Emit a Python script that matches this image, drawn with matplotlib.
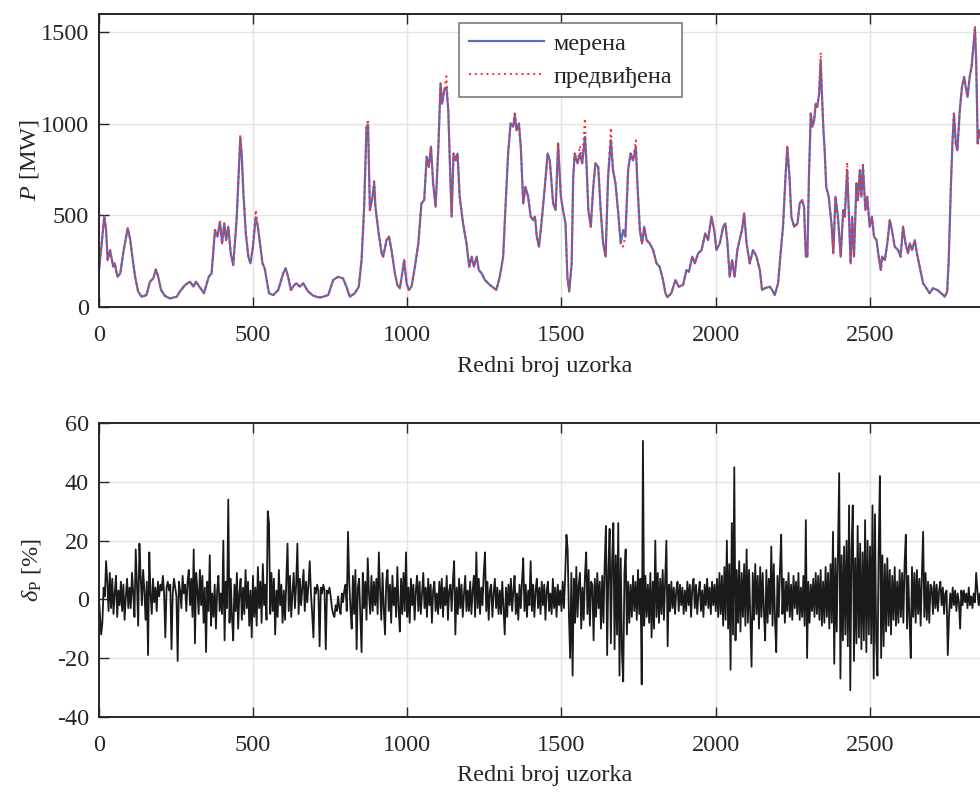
"""Merena i predviđena snaga + relativna greška predviđanja (δP)."""
import matplotlib
matplotlib.use("Agg")
import matplotlib.pyplot as plt
import numpy as np

# ─── Data ──────────────────────────────────────────────────────────────────
# measured power, sample index -> MW
P_IDX = [
    0, 10, 18, 24, 29, 37, 47, 52, 61, 70, 80, 94, 102, 109, 118, 128, 139, 155,
    166, 177, 185, 193, 202, 215, 231, 253, 263, 280, 296, 307, 315, 334, 341,
    357, 366, 377, 385, 393, 400, 407, 413, 420, 428, 436, 447, 453, 459, 464,
    469, 477, 485, 492, 500, 509, 516, 524, 531, 538, 552, 566, 582, 598, 606,
    614, 623, 634, 641, 652, 663, 679, 695, 711, 722, 744, 760, 776, 792, 803,
    814, 830, 843, 852, 860, 868, 873, 879, 886, 893, 897, 906, 917, 922, 933,
    941, 949, 960, 968, 976, 984, 990, 998, 1005, 1014, 1025, 1036, 1046, 1055,
    1063, 1070, 1077, 1084, 1092, 1101, 1108, 1113, 1120, 1127, 1133, 1138,
    1144, 1150, 1157, 1163, 1170, 1181, 1192, 1201, 1209, 1216, 1225, 1232,
    1241, 1252, 1268, 1289, 1300, 1311, 1318, 1327, 1335, 1343, 1349, 1354,
    1362, 1368, 1376, 1383, 1392, 1400, 1408, 1414, 1420, 1427, 1435, 1446,
    1455, 1462, 1473, 1481, 1489, 1498, 1505, 1513, 1519, 1525, 1533, 1538,
    1543, 1552, 1560, 1567, 1576, 1581, 1587, 1595, 1603, 1610, 1619, 1627,
    1635, 1643, 1651, 1660, 1667, 1675, 1683, 1692, 1700, 1707, 1716, 1724,
    1732, 1741, 1746, 1754, 1761, 1768, 1776, 1786, 1797, 1808, 1818, 1829,
    1837, 1843, 1856, 1869, 1880, 1894, 1905, 1913, 1924, 1932, 1943, 1954,
    1966, 1975, 1986, 1995, 2002, 2013, 2024, 2031, 2038, 2045, 2053, 2061,
    2070, 2077, 2085, 2092, 2100, 2110, 2121, 2132, 2143, 2150, 2159, 2175,
    2186, 2191, 2202, 2211, 2218, 2226, 2232, 2239, 2245, 2254, 2265, 2272,
    2280, 2286, 2292, 2297, 2302, 2308, 2313, 2319, 2324, 2329, 2335, 2340,
    2344, 2349, 2353, 2358, 2366, 2375, 2381, 2388, 2396, 2405, 2413, 2418,
    2426, 2431, 2437, 2442, 2448, 2456, 2461, 2467, 2472, 2477, 2485, 2491,
    2499, 2506, 2513, 2521, 2528, 2535, 2539, 2548, 2556, 2564, 2571, 2580,
    2591, 2599, 2607, 2615, 2623, 2629, 2636, 2645, 2652, 2661, 2672, 2683,
    2693, 2704, 2718, 2731, 2742, 2750, 2755, 2762, 2767, 2772, 2778, 2783,
    2791, 2798, 2805, 2810, 2816, 2823, 2829, 2834, 2840, 2844, 2849, 2853,
    2862, 2875, 2890,
]
P_MEAS = [
    184, 350, 495, 420, 256, 310, 220, 238, 165, 184, 300, 430, 370, 275, 165, 84, 56, 65,
    138, 156, 205, 165, 93, 60, 47, 56, 84, 120, 138, 111, 138, 93, 75,
    165, 184, 420, 384, 465, 347, 456, 365, 438, 293, 229, 475, 700, 925, 820,
    620, 400, 275, 238, 330, 490, 438, 330, 238, 211, 75, 65, 93, 184, 211,
    165, 93, 120, 129, 111, 129, 84, 62, 53, 53, 65, 147, 165, 156, 111,
    56, 75, 111, 256, 529, 984, 995, 529, 584, 675, 547, 420, 293, 275, 365,
    384, 311, 184, 120, 102, 184, 256, 129, 93, 111, 220, 347, 565, 584,
    820, 765, 875, 675, 547, 875, 1220, 1110, 1184, 1200, 1075, 800,
    493, 838, 800, 838, 602, 456, 347, 220, 275, 220, 275, 202,
    184, 147, 120, 93, 165, 275, 529, 838, 1002, 984, 1050, 965,
    1002, 875, 565, 656, 602, 493, 475, 493, 384, 329, 456, 656,
    838, 800, 565, 529, 893, 602, 529, 456, 165, 84, 238, 711,
    838, 784, 838, 784, 929, 784, 529, 438, 656, 784, 765, 529,
    347, 275, 711, 911, 747, 675, 529, 347, 420, 384, 747, 838,
    800, 875, 675, 420, 347, 438, 365, 347, 311, 238, 220, 147,
    75, 53, 75, 147, 111, 120, 202, 193, 275, 238, 293, 311,
    402, 365, 493, 420, 311, 347, 438, 456, 347, 165, 256, 165,
    311, 365, 420, 511, 347, 238, 311, 275, 200, 93, 102, 111,
    84, 65, 129, 311, 438, 711, 870, 711, 493, 438, 456, 565,
    584, 547, 275, 275, 711, 1056, 984, 1020, 1110, 1093, 1165, 1345,
    1165, 965, 856, 656, 602, 456, 293, 602, 493, 275, 529, 493,
    747, 529, 238, 493, 275, 675, 584, 747, 602, 765, 529, 602,
    438, 493, 384, 365, 275, 202, 275, 256, 347, 475, 420, 329,
    311, 275, 438, 347, 293, 347, 311, 365, 293, 220, 129, 102,
    75, 102, 93, 75, 56, 84, 256, 656, 893, 1056, 893, 856,
    1075, 1202, 1256, 1202, 1147, 1256, 1311, 1402, 1520, 1347, 893, 965,
    900, 950, 880,
]
# predicted power: equal to measured except where the red dots visibly differ
P_PRED_DIFF = {
    459: 940, 509: 530, 873: 1025, 893: 700, 1127: 1260, 1349: 1070,
    1560: 880, 1576: 1030, 1660: 980, 1741: 910, 1700: 330, 2232: 885,
    2340: 1390, 2426: 790, 2477: 790, 2840: 1535,
}

# relative prediction error [%], one value every 4 samples (0 .. 2896)
DELTA_STEP = 4
DELTA_P = [
    2, -5, -12, -8, 4, 1, 13, 6, -4, 9, -3, 7, -5, 2, 8, -6, 3, -2, 6, -4, 5, -7, 1, 7, -3,
    4, -3, 9, 2, -6, 17, 5, -9, 19, 8, -2, 10, 3, -7, 6, -19, 16, 2, -5, 7, -1, 4, -4, 6, 1,
    5, 3, 8, 2, -13, 4, 6, 3, 5, -17, 2, 7, 4, 1, -21, 6, 3, -3, 8, 2, 5, -4, 6, 10, -2,
    7, -6, 17, -15, 9, 3, -5, 10, -2, 8, -8, 4, -18, 6, -4, 15, -9, 2, -6, 5, -10, 3, 8, -4, 2,
    -5, 20, -14, 6, -3, 34, -8, 7, -6, -14, 5, -4, 9, -10, 2, 7, -7, 4, -5, 10, -3, 6, -9, 3, -13,
    8, -6, 4, -9, 11, -3, 6, -8, 12, -2, 5, -7, 30, 26, -5, 9, -4, 7, -12, 3, -6, 10, -2, 5, -8,
    3, -7, 6, 19, -4, 8, -6, 2, 9, -3, 5, 19, -5, 7, -2, 4, 10, -4, 6, -1, 5, 13, 2, -5, -13,
    4, 2, 5, 3, -16, 4, 2, 5, 3, -17, 3, 2, 4, 1, -3, -5, -6, -2, -4, 1, -3, -5, 2, -1, 3,
    5, -4, 23, 6, -3, -10, 8, -5, 10, -17, 4, 7, -6, -18, 9, -3, 6, -7, 14, 2, -5, 8, -4, 6, -2,
    7, -5, 16, 3, -7, 9, -3, -12, 6, 10, -4, 5, -8, 8, -2, 4, -6, 11, -3, -11, 7, -5, 9, -4, 16,
    -6, 4, -8, 7, -2, 5, -7, 3, 8, -4, 6, -5, 2, 9, -3, 4, -6, 7, -2, 5, -8, 3, 6, -4, 2,
    -5, 6, -3, 7, -6, 4, -2, 8, -7, 3, 5, -4, 6, 13, -12, 4, -5, 7, -3, 5, -6, 2, 8, -4, 3,
    -4, 6, -5, 3, 8, -6, 16, -3, 7, -5, 4, -2, 9, 16, -4, 6, -7, 3, 5, -6, 2, 7, -3, 4, -5,
    3, -5, 6, -3, -12, 4, -6, 5, -2, 7, -4, 3, 8, -5, 2, -7, 5, -3, 6, 14, -4, 5, -6, 3, -2,
    13, -4, 5, -6, 3, 7, -3, 4, -5, 6, -2, 5, -7, 3, 6, -4, 2, -5, 7, -3, 4, -6, 5, -2, 3,
    -4, 6, -3, 8, 22, 17, -5, -20, 9, -26, 7, -8, 11, -6, 5, 9, -10, 4, -7, 8, 16, -5, 10, -9, 6,
    5, -14, 7, -6, 9, -3, 6, -10, 8, -8, 12, 25, -19, 10, 24, -15, 13, 26, -17, 15, -12, 26, -26, 14, -18,
    -28, 9, 17, -12, 6, -8, 5, -6, 8, -4, 6, -7, 10, -5, 7, -29, 54, -9, 8, -6, 5, -8, 9, -13, 6,
    -10, 20, -6, 9, -8, 7, -5, 10, -7, 6, 20, -16, 5, -4, 6, -3, 4, -5, 3, 6, -4, 5, -2, 4, -5,
    3, -4, 6, -2, 5, -6, 4, 7, -3, 5, -5, 2, 6, -4, 3, -6, 5, -2, 7, -3, 4, -5, 6, -2, 5,
    -4, 7, -6, 9, -5, 8, -9, 11, -7, 20, -10, 12, -24, 26, -12, 45, -14, 10, -8, 13, -11, 9, -6, 12, -9,
    17, -8, 10, -6, -23, 9, -7, 12, -5, 8, -10, 11, -6, 9, -4, -14, 10, -8, 7, -5, 18, -9, 12, -7, -18,
    8, -6, 10, 22, -5, 7, -8, 6, -4, 9, -6, 5, -7, 8, -3, 6, -5, 9, -7, 4, -6, 8, -9, 27, -20,
    6, -8, 5, -4, 7, -6, 9, -5, 8, -7, 10, -9, 6, -8, 11, -6, 9, -10, 12, -8, 23, -22, 14, -11, 16,
    43, -27, 15, -14, 18, -12, 20, -16, 32, -31, 17, 32, -21, 14, -15, 25, -13, 19, -17, 16, -14, 27, -18, 20, -12,
    18, -15, 32, -27, 29, -14, -26, 17, 42, -20, 15, -16, 12, -11, 14, -9, 10, -12, 8, -7, 11, -9, 6, -8, 10,
    -6, 9, -8, 12, 22, -10, 8, -7, -20, 11, -6, 9, -8, 10, -5, 7, -9, 8, 23, -6, 9, -7, 6, -8, 5,
    4, -5, 6, -3, 5, -4, 3, 6, -2, 4, -5, 2, 3, -19, -6, 2, -3, 4, -2, 3, -4, 2, -1, -10, 3,
    -2, 3, -1, 2, -3, 4, -2, 1, -3, 2, -1, 9, 3, -2, 2, -4, 1, 3, -2, 2, -3, 1, 2, -2, 1,
]

X_TICKS = [0, 500, 1000, 1500, 2000, 2500]
XLABEL = "Redni broj uzorka"
LEGEND_LABELS = ["мерена", "предвиђена"]

# ─── Style ────────────────────────────────────────────────────────────────
FS = 17.5
plt.rcParams["font.family"] = ["Liberation Serif", "DejaVu Serif"]
plt.rcParams["font.size"] = FS
plt.rcParams["axes.unicode_minus"] = False
plt.rcParams["mathtext.fontset"] = "custom"
plt.rcParams["mathtext.rm"] = "Liberation Serif"
plt.rcParams["mathtext.it"] = "Liberation Serif:italic"

TXT = "#262626"
GRID = "#e3e3e3"


def style_axes(ax):
    ax.set_xlim(0, 2892)
    ax.set_xticks(X_TICKS)
    ax.grid(True, color=GRID, linewidth=1.0)
    ax.set_axisbelow(True)
    ax.tick_params(direction="in", length=7, width=1.0, top=True, right=True,
                   colors=TXT, labelsize=FS)
    ax.tick_params(axis="x", pad=13)
    ax.tick_params(axis="y", pad=7)
    for sp in ax.spines.values():
        sp.set_linewidth(1.4)
        sp.set_color(TXT)
    ax.set_xlabel(XLABEL, color=TXT, fontsize=FS, labelpad=7)


fig = plt.figure(figsize=(9.8, 7.92), dpi=100)

# top: power
ax1 = fig.add_axes([0.1007, 0.6124, 0.9105, 0.370])
p_pred = [P_PRED_DIFF.get(s, v) for s, v in zip(P_IDX, P_MEAS)]
ax1.plot(P_IDX, P_MEAS, color="#4f6fc4", linewidth=1.6, label=LEGEND_LABELS[0])
ax1.plot(P_IDX, p_pred, color="#ff2a2a", linewidth=1.4, linestyle=(0, (1, 2)),
         label=LEGEND_LABELS[1])
ax1.set_ylim(0, 1600)
ax1.set_yticks([0, 500, 1000, 1500])
style_axes(ax1)
ax1.set_ylabel(r"$P$ [MW]", color=TXT, fontsize=FS, labelpad=0)
leg = ax1.legend(loc="upper left", bbox_to_anchor=(0.404, 0.969), borderaxespad=0,
                 handlelength=3.1, handletextpad=0.4, fancybox=False,
                 framealpha=1, edgecolor="#7a7a7a", fontsize=FS,
                 borderpad=0.4, labelspacing=0.45)
leg.get_frame().set_linewidth(1.2)
for t in leg.get_texts():
    t.set_color(TXT)

# bottom: relative error
ax2 = fig.add_axes([0.1007, 0.0951, 0.9105, 0.3705])
d_idx = np.arange(len(DELTA_P)) * DELTA_STEP
ax2.plot(d_idx, DELTA_P, color="#1a1a1a", linewidth=1.3)
ax2.set_ylim(-40, 60)
ax2.set_yticks([-40, -20, 0, 20, 40, 60])
style_axes(ax2)
ax2.set_ylabel(r"$\delta_\mathrm{P}$ [%]", color=TXT, fontsize=FS, labelpad=10)

fig.savefig("out.png", dpi=100)
